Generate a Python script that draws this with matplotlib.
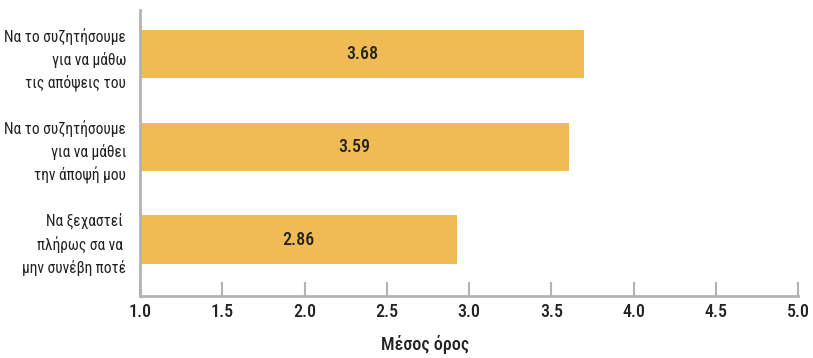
import matplotlib.pyplot as plt
from matplotlib import font_manager

categories = [
    "Να το συζητήσουμε\nγια να μάθω\nτις απόψεις του",
    "Να το συζητήσουμε\nγια να μάθει\nτην άποψή μου",
    "Να ξεχαστεί \nπλήρως σα να \nμην συνέβη ποτέ",
]
# bar ends as drawn in the chart, and the printed mean values
bar_ends = [3.70, 3.61, 2.93]
mean_labels = ["3.68", "3.59", "2.86"]
xticks = [1.0, 1.5, 2.0, 2.5, 3.0, 3.5, 4.0, 4.5, 5.0]

names = {f.name for f in font_manager.fontManager.ttflist}
fam = [n for n in ["Roboto Condensed", "Liberation Sans Narrow", "Roboto", "DejaVu Sans"] if n in names]
plt.rcParams["font.family"] = fam

bar_color = "#F0BB55"
spine_color = "#B3B3B3"
text_color = "#222222"

fig = plt.figure(figsize=(8.13, 3.58), dpi=100)
ax = fig.add_axes([140 / 813, 62 / 358, 658 / 813, 286 / 358])

y = list(range(len(categories)))
ax.barh(y, [b - 1.0 for b in bar_ends], left=1.0, height=0.52, color=bar_color)
for yi, b, lab in zip(y, bar_ends, mean_labels):
    ax.text((1.0 + b) / 2, yi, lab, ha="center", va="center",
            fontsize=13, color=text_color, fontweight="medium")

ax.set_xlim(1.0, 5.0)
ax.set_ylim(2.61, -0.48)
ax.set_xticks(xticks)
ax.set_xticklabels([f"{t:.1f}" for t in xticks], fontsize=13, color=text_color,
                   fontweight="medium")
ax.set_yticks(y)
ax.set_yticklabels(categories, fontsize=11.2, color=text_color, linespacing=1.5)
ax.tick_params(axis="x", direction="in", length=10, width=1.5, color=spine_color, pad=5)
ax.tick_params(axis="y", length=0, pad=10)

for s in ["top", "right"]:
    ax.spines[s].set_visible(False)
for s in ["left", "bottom"]:
    ax.spines[s].set_color(spine_color)
    ax.spines[s].set_linewidth(2)

fig.text(425 / 813, 1 - 345 / 358, "Μέσος όρος", ha="center", va="center",
         fontsize=13, color=text_color, fontweight="medium")

fig.savefig("out.png", dpi=100)
